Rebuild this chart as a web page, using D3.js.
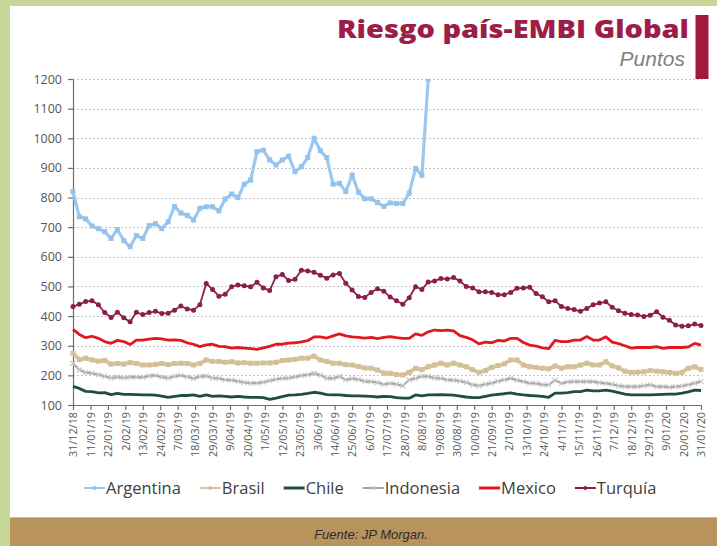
<!DOCTYPE html>
<html>
<head>
<meta charset="utf-8">
<script src="https://cdn.jsdelivr.net/npm/d3@7"></script>
<style>
  html, body { margin: 0; padding: 0; background: #c6d799; }
  svg { display: block; }
</style>
</head>
<body>
<svg id="chart" width="717" height="546"></svg>
<script>
// EMBI Global spread by country, points, sampled every 4 days from 31/12/2018
const startDate = "2018-12-31";
const stepDays = 4;

const seriesNames = ["Argentina", "Brasil", "Chile", "Indonesia", "Mexico", "Turquía"];

const argentina = [820, 735, 728, 704, 695, 685, 662, 692, 655, 634, 672, 662, 705, 712, 695, 718,
  770, 748, 740, 724, 764, 769, 769, 755, 795, 812, 800, 845, 859, 955, 960, 927, 910, 927, 940,
  887, 904, 935, 1000, 958, 935, 845, 848, 820, 876, 818, 796, 796, 783, 770, 782, 780, 780, 815,
  898, 875, 1200];

const brasil = [275, 253, 258, 252, 248, 250, 238, 240, 238, 243, 240, 235, 235, 237, 240, 236,
  240, 241, 240, 235, 240, 252, 247, 247, 244, 246, 242, 243, 241, 241, 242, 242, 244, 250, 252,
  254, 258, 258, 265, 252, 247, 241, 241, 236, 235, 230, 225, 224, 218, 208, 207, 203, 201, 210,
  224, 219, 229, 235, 241, 235, 241, 235, 229, 219, 210, 216, 227, 233, 239, 252, 252, 235, 229,
  227, 224, 222, 232, 224, 229, 229, 235, 241, 235, 235, 246, 232, 225, 214, 210, 211, 212, 216,
  214, 212, 210, 207, 210, 224, 229, 220];

const chile = [163, 156, 146, 145, 141, 142, 135, 139, 136, 136, 135, 134, 134, 133, 130, 126,
  129, 132, 132, 134, 129, 134, 129, 131, 129, 127, 129, 127, 126, 126, 125, 119, 123, 128, 133,
  134, 136, 139, 143, 140, 135, 134, 134, 132, 131, 131, 130, 129, 127, 129, 128, 125, 123, 123,
  134, 131, 134, 134, 135, 134, 133, 130, 127, 125, 125, 129, 133, 136, 138, 141, 137, 134, 132,
  131, 129, 126, 140, 140, 142, 145, 145, 150, 148, 148, 150, 147, 142, 137, 134, 134, 134, 134,
  135, 136, 137, 137, 140, 144, 150, 149];

const indonesia = [241, 218, 210, 207, 202, 197, 191, 194, 192, 194, 194, 193, 198, 200, 194, 191,
  197, 200, 195, 190, 196, 198, 191, 190, 185, 184, 180, 176, 174, 174, 177, 182, 187, 190, 191,
  195, 199, 202, 207, 201, 190, 190, 196, 185, 189, 186, 180, 179, 176, 170, 173, 170, 165, 185,
  190, 197, 196, 191, 190, 185, 184, 181, 176, 168, 165, 170, 174, 180, 185, 190, 184, 179, 174,
  173, 169, 168, 184, 173, 178, 179, 179, 179, 179, 175, 173, 170, 165, 162, 162, 162, 165, 168,
  162, 162, 160, 162, 164, 168, 174, 179];

const mexico = [355, 338, 327, 332, 325, 314, 308, 318, 314, 304, 319, 319, 322, 325, 323, 319,
  320, 318, 310, 305, 297, 303, 305, 298, 297, 292, 294, 292, 290, 288, 293, 298, 305, 305, 309,
  310, 313, 317, 330, 330, 326, 333, 340, 333, 330, 328, 326, 328, 324, 328, 331, 327, 325, 325,
  340, 335, 347, 353, 351, 353, 350, 334, 328, 320, 306, 312, 310, 318, 316, 325, 325, 311, 302,
  299, 293, 290, 318, 314, 314, 319, 319, 331, 319, 319, 330, 312, 307, 300, 292, 294, 294, 294,
  297, 291, 294, 294, 294, 296, 308, 302];

const turquia = [432, 440, 449, 452, 438, 412, 395, 413, 394, 381, 413, 405, 412, 416, 409, 410,
  420, 434, 424, 420, 438, 510, 490, 467, 474, 499, 505, 502, 499, 514, 495, 486, 533, 540, 520,
  524, 555, 552, 548, 538, 528, 539, 544, 511, 488, 466, 463, 480, 492, 484, 464, 452, 440, 462,
  499, 490, 515, 518, 527, 525, 530, 518, 500, 495, 482, 482, 480, 472, 472, 480, 494, 495, 497,
  476, 465, 448, 452, 432, 426, 422, 416, 426, 438, 444, 448, 430, 418, 410, 405, 404, 399, 403,
  415, 396, 386, 370, 366, 367, 373, 368];

const tickLabels = ["31/12/18", "11/01/19", "22/01/19", "2/02/19", "13/02/19", "24/02/19", "7/03/19",
  "18/03/19", "29/03/19", "9/04/19", "20/04/19", "1/05/19", "12/05/19", "23/05/19", "3/06/19",
  "14/06/19", "25/06/19", "6/07/19", "17/07/19", "28/07/19", "8/08/19", "19/08/19", "30/08/19",
  "10/09/19", "21/09/19", "2/10/19", "13/10/19", "24/10/19", "4/11/19", "15/11/19", "26/11/19",
  "7/12/19", "18/12/19", "29/12/19", "9/01/20", "20/01/20", "31/01/20"];

const yTicks = [100, 200, 300, 400, 500, 600, 700, 800, 900, 1000, 1100, 1200];

// ---------------------------------------------------------------------------
const svg = d3.select("#chart");
const W = 717, H = 546;
const plot = { left: 73, right: 701, top: 79, bottom: 405 };

const parseLabel = d3.timeParse("%d/%m/%y");
const tickDates = tickLabels.map(parseLabel);
const start = d3.timeParse("%Y-%m-%d")(startDate);
const dateAt = i => d3.timeDay.offset(start, i * stepDays);

const x = d3.scaleTime()
  .domain([tickDates[0], tickDates[tickDates.length - 1]])
  .range([plot.left, plot.right]);
const y = d3.scaleLinear().domain([100, 1200]).range([plot.bottom, plot.top]);

// frame: green border, white panel, footer band
svg.append("rect").attr("width", W).attr("height", H).attr("fill", "#c6d799");
svg.append("rect").attr("x", 10).attr("y", 6).attr("width", W - 10).attr("height", 512).attr("fill", "#ffffff");
svg.append("rect").attr("x", 10).attr("y", 517).attr("width", W - 10).attr("height", H - 517).attr("fill", "#b8935b");
svg.append("line").attr("x1", 10).attr("x2", W).attr("y1", 517.5).attr("y2", 517.5)
  .attr("stroke", "#d6c28e").attr("stroke-width", 1.2);

// header
svg.append("text")
  .attr("x", 337).attr("y", 38)
  .attr("textLength", 352).attr("lengthAdjust", "spacingAndGlyphs")
  .attr("font-family", "'Open Sans', 'DejaVu Sans', sans-serif")
  .attr("font-weight", 800).attr("font-size", 25)
  .attr("fill", "#9e1d48")
  .text("Riesgo país-EMBI Global");
svg.append("text")
  .attr("x", 685).attr("y", 66).attr("text-anchor", "end")
  .attr("font-family", "'Liberation Sans', Arial, sans-serif")
  .attr("font-style", "italic").attr("font-size", 21)
  .attr("fill", "#808080")
  .text("Puntos");
svg.append("rect").attr("x", 695.5).attr("y", 15).attr("width", 13).attr("height", 64).attr("fill", "#a3183f");

// gridlines
svg.append("g").selectAll("line").data(yTicks).join("line")
  .attr("x1", plot.left).attr("x2", plot.right + 1)
  .attr("y1", d => Math.round(y(d)) + 0.5).attr("y2", d => Math.round(y(d)) + 0.5)
  .attr("stroke", "#c4c4c4").attr("stroke-width", 1).attr("stroke-dasharray", "2,2");

// axes
const axisFont = "'Open Sans', 'DejaVu Sans', sans-serif";
const gy = svg.append("g").attr("transform", `translate(${plot.left},0)`)
  .call(d3.axisLeft(y).tickValues(yTicks).tickSize(5).tickSizeOuter(0).tickPadding(6).tickFormat(d3.format("d")));
gy.selectAll("text").attr("font-family", axisFont).attr("font-size", 12.5).attr("fill", "#555");
gy.selectAll("line, path").attr("stroke", "#6e6e6e").attr("stroke-width", 1.2);

const gx = svg.append("g").attr("transform", `translate(0,${plot.bottom})`)
  .call(d3.axisBottom(x).tickValues(tickDates).tickSize(5).tickSizeOuter(0)
    .tickFormat((d, i) => tickLabels[i]));
gx.selectAll("text")
  .attr("font-family", axisFont).attr("font-size", 10.8).attr("fill", "#555")
  .attr("transform", "rotate(-90)")
  .attr("x", -7).attr("y", 0).attr("dy", "0.35em")
  .style("text-anchor", "end");
gx.selectAll("line, path").attr("stroke", "#6e6e6e").attr("stroke-width", 1.2);

// series
svg.append("defs").append("clipPath").attr("id", "plot-clip")
  .append("rect").attr("x", plot.left - 4).attr("y", plot.top)
  .attr("width", plot.right - plot.left + 10).attr("height", plot.bottom - plot.top + 6);

const styles = {
  "Argentina": { values: argentina, color: "#9cc8ef", width: 3.2, marker: "square", mcolor: "#92c3ee", msize: 5 },
  "Brasil":    { values: brasil,    color: "#d8c6a2", width: 4, marker: "square", mcolor: "#d3bf98", msize: 5 },
  "Chile":     { values: chile,     color: "#1f4f3b", width: 2.8, marker: null },
  "Indonesia": { values: indonesia, color: "#a3a3a3", width: 2.2, marker: "times", mcolor: "#c9c9c9", msize: 5 },
  "Mexico":    { values: mexico,    color: "#e2191c", width: 2.8, marker: null },
  "Turquía":   { values: turquia,   color: "#8a1e4d", width: 1.8, marker: "circle", mcolor: "#8a1e4d", msize: 2.5 }
};

const line = d3.line()
  .defined(d => d.v != null)
  .x(d => x(d.date)).y(d => y(d.v));

const series = seriesNames.map(name => ({
  name,
  ...styles[name],
  points: styles[name].values.map((v, i) => ({ date: dateAt(i), v }))
}));

const gSeries = svg.append("g").attr("clip-path", "url(#plot-clip)");

function drawMarker(sel, s, px, py) {
  if (s.marker === "square") {
    sel.append("rect")
      .attr("x", px - s.msize / 2).attr("y", py - s.msize / 2)
      .attr("width", s.msize).attr("height", s.msize)
      .attr("fill", s.mcolor);
  } else if (s.marker === "circle") {
    sel.append("circle").attr("cx", px).attr("cy", py).attr("r", s.msize).attr("fill", s.mcolor);
  } else if (s.marker === "times") {
    const h = s.msize / 2;
    sel.append("path")
      .attr("d", `M${px - h},${py - h}L${px + h},${py + h}M${px - h},${py + h}L${px + h},${py - h}`)
      .attr("stroke", s.mcolor).attr("stroke-width", 1.2).attr("fill", "none");
  }
}

series.forEach(s => {
  const g = gSeries.append("g");
  g.append("path").datum(s.points)
    .attr("d", line)
    .attr("fill", "none")
    .attr("stroke", s.color)
    .attr("stroke-width", s.width)
    .attr("stroke-linejoin", "round");
  if (s.marker) {
    s.points.forEach(p => drawMarker(g, s, x(p.date), y(p.v)));
  }
});

// legend
const legend = svg.append("g").attr("transform", "translate(0,488)");
let lx = 84;
series.forEach(s => {
  const item = legend.append("g").attr("transform", `translate(${lx},0)`);
  item.append("line").attr("x1", 0).attr("x2", 21).attr("y1", 0).attr("y2", 0)
    .attr("stroke", s.color).attr("stroke-width", s.marker ? 2 : 3);
  if (s.marker) drawMarker(item, { ...s, msize: s.marker === "circle" ? 2 : 3.5 }, 10.5, 0);
  const t = item.append("text")
    .attr("x", 22).attr("y", 0).attr("dy", "0.35em")
    .attr("font-family", axisFont).attr("font-size", 16.5).attr("fill", "#404040")
    .text(s.name);
  lx += 22 + t.node().getComputedTextLength() + 19;
});

// source
svg.append("text")
  .attr("x", 371).attr("y", 539).attr("text-anchor", "middle")
  .attr("font-family", "'Liberation Sans', Arial, sans-serif")
  .attr("font-style", "italic").attr("font-size", 13)
  .attr("fill", "#2b2b2b")
  .text("Fuente: JP Morgan.");
</script>
</body>
</html>
